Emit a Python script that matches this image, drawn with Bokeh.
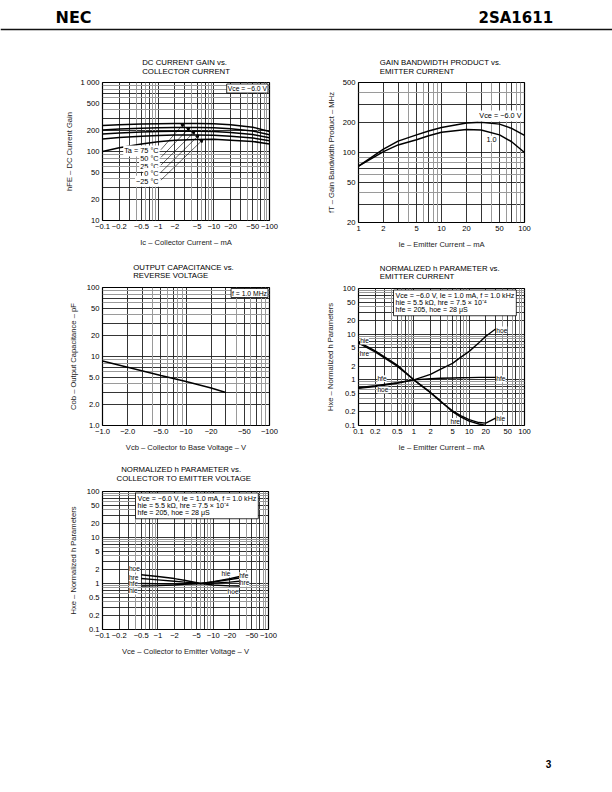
import numpy as np
from bokeh.plotting import figure
from bokeh.models import (FixedTicker, Grid, Label, Span, ColumnDataSource, Arrow,
                          NormalHead, Range1d, Spacer)
from bokeh.layouts import column, row
from bokeh.embed import file_html
from bokeh.resources import INLINE

FONT = "Liberation Sans"

# ---------------- Chart 1: DC current gain vs collector current ----------------
ic_ma = [0.1, 0.2, 0.5, 1, 2, 5, 10, 20, 50, 100]
hfe_ta75 = [238, 245, 250, 253, 255, 255, 253, 245, 225, 195]
hfe_ta50 = [205, 212, 218, 221, 223, 223, 221, 214, 198, 175]
hfe_ta25 = [180, 186, 192, 195, 197, 197, 195, 189, 176, 158]
hfe_ta0 = [152, 160, 167, 171, 173, 173, 172, 167, 157, 143]
hfe_tam25 = [100, 113, 128, 138, 145, 149, 150, 146, 140, 128]
ta_labels = ["Ta = 75 °C", "50 °C", "25 °C", "0 °C", "−25 °C"]

# ---------------- Chart 2: gain bandwidth product vs emitter current ----------------
ie_ma = [1, 2, 3, 5, 7, 10, 20, 30, 50, 70, 100]
ft_vce6 = [73, 108, 130, 150, 164, 178, 197, 200, 192, 174, 148]
ft_vce1 = [73, 102, 119, 134, 147, 159, 170, 168, 150, 128, 100]

# ---------------- Chart 3: output capacitance vs reverse voltage ----------------
vcb_v = [1, 2, 5, 10, 20, 30]
cob_pf = [8.6, 7.0, 5.3, 4.35, 3.5, 3.0]

# ---------------- Chart 4: normalized h parameter vs emitter current ----------------
ie_h_ma = [0.1, 0.2, 0.5, 1, 2, 3, 5, 7, 10, 15, 20, 30]
hie_vs_ie = [6.8, 4.3, 2.1, 1.0, 0.52, 0.34, 0.21, 0.165, 0.135, 0.116, 0.113, 0.145]
ie_hre_ma = [0.1, 0.2, 0.5, 1, 2, 3, 5, 7, 10, 15, 20]
hre_vs_ie = [6.4, 4.1, 2.0, 1.0, 0.53, 0.35, 0.2, 0.155, 0.125, 0.108, 0.1]
hfe_vs_ie = [0.67, 0.74, 0.87, 1.0, 1.06, 1.08, 1.1, 1.11, 1.12, 1.13, 1.13, 1.13]
hoe_vs_ie = [0.65, 0.71, 0.84, 1.0, 1.32, 1.7, 2.3, 3.1, 4.2, 6.5, 9.0, 13.0]

# ---------------- Chart 5: normalized h parameter vs collector to emitter voltage ----------------
vce_v = [0.5, 1, 2, 3, 6, 10, 20, 30]
hoe_vs_vce = [1.55, 1.42, 1.28, 1.18, 1.0, 0.93, 0.89, 0.88]
hre_vs_vce = [1.28, 1.2, 1.12, 1.07, 1.0, 1.02, 1.07, 1.12]
hfe_vs_vce = [1.0, 0.99, 0.98, 0.98, 1.0, 1.08, 1.22, 1.32]
hie_vs_vce = [0.88, 0.9, 0.93, 0.96, 1.0, 1.1, 1.28, 1.42]

cond_text = ("Vce = −6.0 V, Ie = 1.0 mA, f = 1.0 kHz\n"
             "hie = 5.5 kΩ, hre = 7.5 × 10⁻⁴\n"
             "hfe = 205, hoe = 28 μS")

# ---------------- tick values / labels ----------------
dec3_ticks = [0.1, 0.2, 0.5, 1, 2, 5, 10, 20, 50, 100]
dec3_neg_labels = ["−0.1", "−0.2", "−0.5", "−1", "−2", "−5", "−10", "−20", "−50", "−100"]
dec3_labels = ["0.1", "0.2", "0.5", "1", "2", "5", "10", "20", "50", "100"]
hfe_ticks = [10, 20, 50, 100, 200, 500, 1000]
hfe_tick_labels = ["10", "20", "50", "100", "200", "500", "1 000"]
ie_ticks = [1, 2, 5, 10, 20, 50, 100]
ie_tick_labels = ["1", "2", "5", "10", "20", "50", "100"]
ft_ticks = [20, 50, 100, 200, 500]
ft_tick_labels = ["20", "50", "100", "200", "500"]
vcb_ticks = [1, 2, 5, 10, 20, 50, 100]
vcb_tick_labels = ["−1.0", "−2.0", "−5.0", "−10", "−20", "−50", "−100"]
cob_ticks = [1, 2, 5, 10, 20, 50, 100]
cob_tick_labels = ["1.0", "2.0", "5.0", "10", "20", "50", "100"]

DARK = [1, 2, 3, 5, 7]
LIGHT = [4, 6, 8, 9]


def log_lines(lo, hi, mults):
    out = []
    for e in range(-3, 4):
        for m in mults:
            v = round(m * 10.0 ** e, 6)
            if lo <= v <= hi:
                out.append(v)
    return out


def on_curve(xq, xs, ys):
    return float(10 ** np.interp(np.log10(xq), np.log10(xs), np.log10(ys)))


def blank(w, h, xspan=None):
    f = figure(width=w, height=h, x_range=Range1d(0, xspan or w), y_range=Range1d(0, h),
               x_axis_location=None, y_axis_location=None, title=None, min_border=0,
               output_backend="svg", toolbar_location=None)
    f.grid.visible = False
    f.outline_line_color = None
    return f


def title_fig(w, h, frame_w, lines):
    # the frame of this strip is aligned with the chart's frame below it
    f = blank(w, h, frame_w)
    for x, y, t in lines:
        f.add_layout(Label(x=x, y=y, text=t, text_font=FONT, text_font_size="7.8px",
                           text_baseline="middle", text_color="black"))
    return f


def chart(xr, yr, w, h, bl, br, bt, bb, xticks, xlabels, yticks, ylabels,
          xtitle, ytitle, ystand):
    p = figure(width=w, height=h, x_axis_type="log", y_axis_type="log",
               x_range=Range1d(*xr), y_range=Range1d(*yr), title=None,
               min_border_left=bl, min_border_right=br,
               min_border_top=bt, min_border_bottom=bb,
               output_backend="svg", toolbar_location=None)
    p.background_fill_color = "white"
    p.border_fill_color = "white"
    p.outline_line_color = "black"
    p.outline_line_width = 1.2
    p.xaxis.ticker = FixedTicker(ticks=xticks, minor_ticks=[])
    p.yaxis.ticker = FixedTicker(ticks=yticks, minor_ticks=[])
    p.xaxis.major_label_overrides = dict(zip(xticks, xlabels))
    p.yaxis.major_label_overrides = dict(zip(yticks, ylabels))
    for ax in (p.xaxis, p.yaxis):
        ax.axis_line_color = None
        ax.major_tick_in = 0
        ax.major_tick_out = 0
        ax.minor_tick_in = 0
        ax.minor_tick_out = 0
        ax.major_label_text_font = FONT
        ax.major_label_text_font_size = "7.6px"
        ax.major_label_text_color = "black"
        ax.axis_label_text_font = FONT
        ax.axis_label_text_font_size = "7.6px"
        ax.axis_label_text_font_style = "normal"
        ax.axis_label_text_color = "#222"
    p.xaxis.major_label_standoff = 3
    p.yaxis.major_label_standoff = 3
    p.xaxis.axis_label_standoff = 6
    p.yaxis.axis_label_standoff = ystand
    p.xaxis.axis_label = xtitle
    p.yaxis.axis_label = ytitle
    # grids
    p.xgrid.ticker = FixedTicker(ticks=log_lines(xr[0], xr[1], DARK))
    p.ygrid.ticker = FixedTicker(ticks=log_lines(yr[0], yr[1], DARK))
    p.xgrid.grid_line_color = "#1e1e1e"
    p.ygrid.grid_line_color = "#1e1e1e"
    p.xgrid.grid_line_width = 0.9
    p.ygrid.grid_line_width = 0.9
    p.add_layout(Grid(dimension=0, ticker=FixedTicker(ticks=log_lines(xr[0], xr[1], LIGHT)),
                      grid_line_color="#9a9a9a", grid_line_width=1))
    p.add_layout(Grid(dimension=1, ticker=FixedTicker(ticks=log_lines(yr[0], yr[1], LIGHT)),
                      grid_line_color="#9a9a9a", grid_line_width=1))
    return p


def lab(p, x, y, text, size="7px", align="left", baseline="middle",
        xu="data", yu="data", bg=None, border=None, style="normal", lh=1.2, pad=1):
    kw = dict(x=x, y=y, x_units=xu, y_units=yu, text=text, text_font=FONT,
              text_font_size=size, text_align=align, text_baseline=baseline,
              text_color="black", text_font_style=style, text_line_height=lh)
    if bg:
        kw["background_fill_color"] = bg
        kw["padding"] = pad
    if border:
        kw["border_line_color"] = border
        kw["border_line_width"] = 0.8
    p.add_layout(Label(**kw))


# ---------------- header ----------------
hdr = blank(612, 50)
hdr.add_layout(Span(location=21, dimension="width", line_color="#111", line_width=1.6))
hdr.add_layout(Label(x=55, y=33, text="NEC", text_font="DejaVu Sans", text_font_size="16px",
                     text_font_style="bold", text_baseline="middle", text_color="black"))
hdr.add_layout(Label(x=478, y=33, text="2SA1611", text_font="DejaVu Sans", text_font_size="15px",
                     text_font_style="bold", text_baseline="middle", text_color="black"))

# ---------------- chart 1 ----------------
t1 = title_fig(306, 26, 167, [(39.7, 14.3, "DC CURRENT GAIN vs."), (39.7, 5.3, "COLLECTOR CURRENT")])
c1 = chart((0.1, 100), (10, 1000), 306, 179, 102, 37, 6, 35,
           dec3_ticks, dec3_neg_labels, hfe_ticks, hfe_tick_labels,
           "Ic – Collector Current – mA", "hFE – DC Current Gain", 3)
for ys in (hfe_ta75, hfe_ta50, hfe_ta25, hfe_ta0, hfe_tam25):
    c1.line(ic_ma, ys, line_color="black", line_width=1.5)
lab(c1, 165.5, 132, "Vce = −6.0 V", size="6.8px", align="right", xu="screen", yu="screen",
    bg="white", border="black")
ta_label_y = [102, 79, 61, 48, 37]
tip_ic = [2.9, 3.7, 4.6, 5.4, 6.4]
curves1 = [hfe_ta75, hfe_ta50, hfe_ta25, hfe_ta0, hfe_tam25]
x0s, y0s, x1s, y1s = [], [], [], []
for t, ly, tx, cv in zip(ta_labels, ta_label_y, tip_ic, curves1):
    lab(c1, 1.06, ly, t, size="7.3px", align="right", bg="white")
    x0s.append(1.12)
    y0s.append(ly * 1.04)
    x1s.append(tx)
    y1s.append(on_curve(tx, ic_ma, cv))
c1.add_layout(Arrow(source=ColumnDataSource(dict(x0=x0s, y0=y0s, x1=x1s, y1=y1s)),
                    x_start="x0", y_start="y0", x_end="x1", y_end="y1",
                    line_width=0.6, line_color="black",
                    end=NormalHead(size=3, fill_color="black", line_color="black")))

# ---------------- chart 2 ----------------
t2 = title_fig(306, 26, 166, [(21.3, 14.3, "GAIN BANDWIDTH PRODUCT vs."), (21.3, 5.5, "EMITTER CURRENT")])
c2 = chart((1, 100), (20, 500), 306, 179, 52, 88, 6, 33,
           ie_ticks, ie_tick_labels, ft_ticks, ft_tick_labels,
           "Ie – Emitter Current – mA", "fT – Gain Bandwidth Product – MHz", 4)
c2.line(ie_ma, ft_vce6, line_color="black", line_width=1.5)
c2.line(ie_ma, ft_vce1, line_color="black", line_width=1.5)
lab(c2, 164, 232, "Vce = −6.0 V", size="7.3px", align="right", xu="screen", bg="white")
lab(c2, 40, 136, "1.0", size="7.3px", align="center", bg="white")

# ---------------- chart 3 ----------------
t3 = title_fig(306, 26, 167, [(30.7, 14.3, "OUTPUT CAPACITANCE vs."), (30.7, 6.0, "REVERSE VOLTAGE")])
c3 = chart((1, 100), (1, 100), 306, 179, 102, 37, 6, 35,
           vcb_ticks, vcb_tick_labels, cob_ticks, cob_tick_labels,
           "Vcb – Collector to Base Voltage – V", "Cob – Output Capacitance – pF", 6)
c3.line(vcb_v, cob_pf, line_color="black", line_width=1.5)
lab(c3, 165.5, 132.5, "f = 1.0 MHz", size="6.8px", align="right", xu="screen", yu="screen",
    bg="white", border="black")

# ---------------- chart 4 ----------------
t4 = title_fig(306, 26, 166, [(21.3, 13.3, "NORMALIZED h PARAMETER vs."), (21.3, 5.3, "EMITTER CURRENT")])
c4 = chart((0.1, 100), (0.1, 100), 306, 179, 52, 88, 7, 35,
           dec3_ticks, dec3_labels, dec3_ticks, dec3_labels,
           "Ie – Emitter Current – mA", "Hxe – Normalized h Parameters", 5)
c4.line(ie_h_ma, hie_vs_ie, line_color="black", line_width=1.4)
c4.line(ie_hre_ma, hre_vs_ie, line_color="black", line_width=1.4)
c4.line(ie_h_ma, hfe_vs_ie, line_color="black", line_width=1.4)
c4.line(ie_h_ma, hoe_vs_ie, line_color="black", line_width=1.4)
lab(c4, 35, 135.5, cond_text, size="7.1px", baseline="top", xu="screen", yu="screen",
    bg="white", border="black", lh=0.86, pad=2)
for x, y, t in ((0.107, 7.1, "hie"), (0.105, 3.7, "hre"), (0.22, 1.05, "hfe"),
                (0.22, 0.6, "hoe"), (31, 12.3, "hoe"), (31, 1.06, "hfe"),
                (31, 0.145, "hie"), (4.6, 0.122, "hre")):
    lab(c4, x, y, t, size="6.6px", bg="white", pad=0)

# ---------------- chart 5 ----------------
t5 = title_fig(306, 25, 166, [(18.7, 15.7, "NORMALIZED h PARAMETER vs."),
                              (14.0, 6.7, "COLLECTOR TO EMITTER VOLTAGE")])
c5 = chart((0.1, 100), (0.1, 100), 306, 179, 102, 38, 6, 35,
           dec3_ticks, dec3_neg_labels, dec3_ticks, dec3_labels,
           "Vce – Collector to Emitter Voltage – V", "Hxe – Normalized h Parameters", 6)
for ys in (hoe_vs_vce, hre_vs_vce, hfe_vs_vce, hie_vs_vce):
    c5.line(vce_v, ys, line_color="black", line_width=1.4)
lab(c5, 33, 136.5, cond_text, size="7.1px", baseline="top", xu="screen", yu="screen",
    bg="white", border="black", lh=0.86, pad=2)
for x, y, t in ((0.3, 2.07, "hoe"), (0.3, 1.32, "hre"), (0.3, 1.0, "hfe"), (0.3, 0.69, "hie"),
                (14.2, 1.61, "hie"), (29.5, 1.48, "hfe"), (30.3, 1.03, "hre"), (18.2, 0.67, "hoe")):
    lab(c5, x, y, t, size="6.6px", bg="white", pad=0)

# ---------------- footer ----------------
ftr = blank(612, 128)
ftr.add_layout(Label(x=548, y=29, text="3", text_font=FONT, text_font_size="10px",
                     text_font_style="bold", text_align="center", text_baseline="middle",
                     text_color="black"))

layout = column(hdr,
                row(column(t1, c1), column(t2, c2)),
                row(column(t3, c3), column(t4, c4)),
                row(column(t5, c5), Spacer(width=306, height=204)),
                ftr)

open("out.html", "w").write(file_html(layout, INLINE))
